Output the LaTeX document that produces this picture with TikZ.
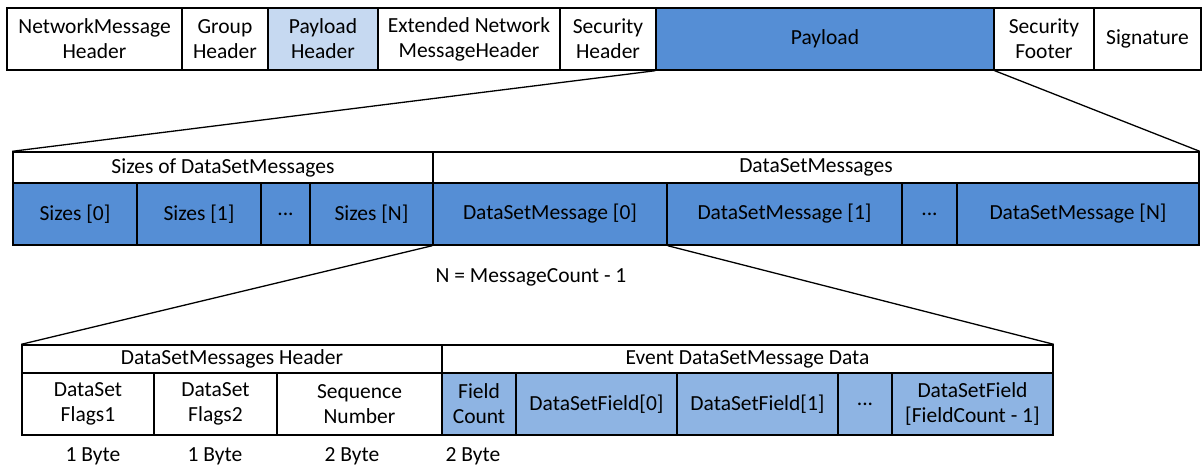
\documentclass[tikz,border=0pt]{standalone}
\usepackage{fontspec}
\setmainfont{Carlito}
\usepackage{tikz}
\usetikzlibrary{calc,positioning}
\definecolor{payloadblue}{HTML}{558ED5}
\definecolor{headerblue}{HTML}{C6D9F1}
\definecolor{fieldblue}{HTML}{8EB4E3}
\tikzset{font={\fontsize{21.5pt}{25pt}\selectfont}}
\tikzstyle{field}=[draw,line width=1.4pt,inner sep=0pt,align=center]
\tikzstyle{zoomline}=[line width=1.3pt]
\tikzstyle{bytes}=[inner sep=0pt]
% box from (x1,y1) to (x2,y2), in pixels
\newcommand{\fieldbox}[7]{%
  \pgfmathsetmacro{\boxw}{#4-#2}\pgfmathsetmacro{\boxh}{#5-#3}%
  \node[field,#6,minimum width=\boxw pt,minimum height=\boxh pt] (#1) at ({(#2+#4)/2},{(#3+#5)/2}) {#7};}

\begin{document}
\begin{tikzpicture}[x=1pt,y=-1pt]
  \useasboundingbox (0,0) rectangle (1203,467);
  % network message
  \fieldbox{nm-hdr}{7}{8}{182}{70}{fill=white}{NetworkMessage\\Header}
  \fieldbox{grp-hdr}{182}{8}{268}{70}{fill=white}{Group\\Header}
  \fieldbox{pl-hdr}{268}{8}{378}{70}{fill=headerblue}{Payload\\Header}
  \fieldbox{ext-hdr}{378}{8}{560}{70}{fill=white}{Extended Network\\MessageHeader}
  \fieldbox{sec-hdr}{560}{8}{656}{70}{fill=white}{Security\\Header}
  \fieldbox{payload}{656}{8}{994}{70}{fill=payloadblue}{Payload}
  \fieldbox{sec-ftr}{994}{8}{1094}{70}{fill=white}{Security\\Footer}
  \fieldbox{sig}{1094}{8}{1201}{70}{fill=white}{Signature}
  %
  % payload
  \fieldbox{sizes}{13}{152}{433}{183}{fill=white}{Sizes of DataSetMessages}
  \fieldbox{dsms}{433}{152}{1199}{183}{fill=white}{DataSetMessages}
  \fieldbox{size-0}{13}{183}{137}{245}{fill=payloadblue}{Sizes [0]}
  \fieldbox{size-1}{137}{183}{261}{245}{fill=payloadblue}{Sizes [1]}
  \fieldbox{size-dots}{261}{183}{310}{245}{fill=payloadblue}{...}
  \fieldbox{size-n}{310}{183}{433}{245}{fill=payloadblue}{Sizes [N]}
  \fieldbox{dsm-0}{433}{183}{667}{245}{fill=payloadblue}{DataSetMessage [0]}
  \fieldbox{dsm-1}{667}{183}{902}{245}{fill=payloadblue}{DataSetMessage [1]}
  \fieldbox{dsm-dots}{902}{183}{957}{245}{fill=payloadblue}{...}
  \fieldbox{dsm-n}{957}{183}{1199}{245}{fill=payloadblue}{DataSetMessage [N]}
  \node (count) at (531,277) {N = MessageCount - 1};
  %
  % dataset message
  \fieldbox{dsm-hdr}{22}{345}{442}{373}{fill=white}{DataSetMessages Header}
  \fieldbox{evt-data}{442}{345}{1053}{373}{fill=white}{Event DataSetMessage Data}
  \fieldbox{flags1}{22}{373}{154}{435}{fill=white}{DataSet\\Flags1}
  \fieldbox{flags2}{154}{373}{277}{435}{fill=white}{DataSet\\Flags2}
  \fieldbox{seq}{277}{373}{442}{435}{fill=white}{Sequence\\Number}
  \fieldbox{fcount}{442}{373}{516}{435}{fill=fieldblue}{Field\\Count}
  \fieldbox{dsf-0}{516}{373}{677}{435}{fill=fieldblue}{DataSetField[0]}
  \fieldbox{dsf-1}{677}{373}{838}{435}{fill=fieldblue}{DataSetField[1]}
  \fieldbox{dsf-dots}{838}{373}{892}{435}{fill=fieldblue}{...}
  \fieldbox{dsf-n}{892}{373}{1053}{435}{fill=fieldblue}{DataSetField\\{}[FieldCount - 1]}
  %
  \node[bytes] (b-flags1) at (93,456) {1 Byte};
  \node[bytes] (b-flags2) at (215,456) {1 Byte};
  \node[bytes] (b-seq) at (352,456) {2 Byte};
  \node[bytes] (b-fcount) at (473,456) {2 Byte};
  %
  \draw[zoomline] (payload.south west) -- (sizes.north west);
  \draw[zoomline] (payload.south east) -- (dsms.north east);
  \draw[zoomline] (dsm-0.south west) -- (dsm-hdr.north west);
  \draw[zoomline] (dsm-0.south east) -- (evt-data.north east);
\end{tikzpicture}
\end{document}
